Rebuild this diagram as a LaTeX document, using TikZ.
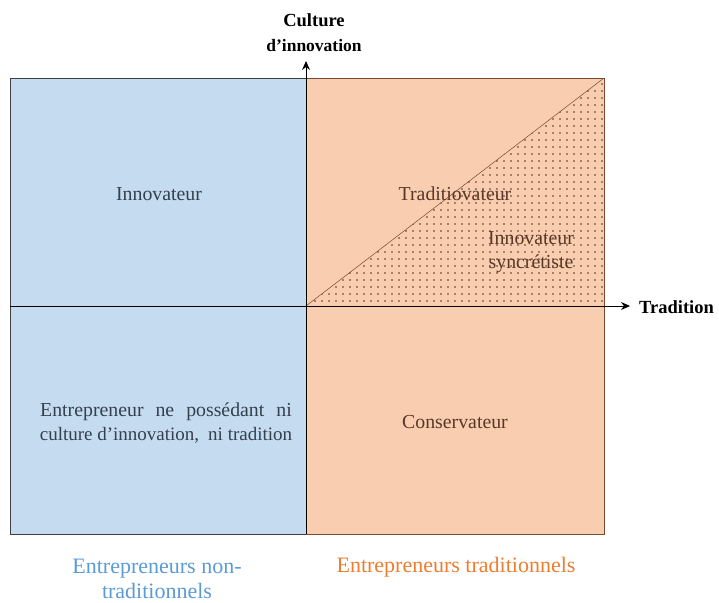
\documentclass[tikz,border=0pt]{standalone}
\usepackage{fontspec}
\setmainfont{Liberation Serif}
\usetikzlibrary{arrows.meta,patterns.meta}
\definecolor{bluefill}{HTML}{C5DCF0}
\definecolor{orangefill}{HTML}{F8CDB0}
\definecolor{brownline}{HTML}{7A4A30}
\definecolor{dotcolor}{HTML}{5A3020}
\definecolor{greyline}{HTML}{3F3F3F}
\definecolor{bluetext}{HTML}{33404F}
\definecolor{browntext}{HTML}{5A3828}
\definecolor{bluelabel}{HTML}{5B9BD5}
\definecolor{orangelabel}{HTML}{ED7D31}
\tikzset{
  quadtext/.style={font=\fontsize{19.8}{24}\selectfont, align=center, inner sep=0pt},
  axislabel/.style={font=\bfseries\fontsize{18.5}{25}\selectfont, align=center, inner sep=0pt},
  grouplabel/.style={font=\fontsize{22}{25}\selectfont, align=center, inner sep=0pt},
  axisline/.style={line width=1pt, black, -{Stealth[length=9pt,width=8pt,inset=3pt]}}
}
\begin{document}
\begin{tikzpicture}[x=1pt,y=-1pt]
\useasboundingbox (0,0) rectangle (719,602);
% quadrants
\fill[bluefill] (10,78) rectangle (306,534);
\fill[orangefill] (306,78) rectangle (604,534);
\fill[pattern={Dots[distance=7pt,radius=0.85pt]}, pattern color=dotcolor] (306,306) -- (604,78) -- (604,306) -- cycle;
\draw[greyline, line width=1pt] (306,78) -- (10,78) -- (10,534) -- (306,534);
\draw[brownline, line width=1pt] (306,78) -- (604,78) -- (604,534) -- (306,534);
\coordinate (o) at (306,306);
\coordinate (tr) at (604,78);
\draw[brownline, line width=0.5pt] (o) -- (tr);
% axes
\coordinate (xstart) at (10,306);
\coordinate (xend) at (630,306);
\coordinate (ystart) at (306,534);
\coordinate (yend) at (306,61);
\draw[axisline] (xstart) -- (xend);
\draw[axisline] (ystart) -- (yend);
% labels
\node[axislabel] (culture) at (314,33) {Culture\\\fontsize{17.5}{25}\selectfont d’innovation};
\node[axislabel, anchor=west] (tradition) at (639,307) {Tradition};
\node[quadtext, text=bluetext] (innov) at (159,194) {Innovateur};
\node[quadtext, text=browntext] (tradi) at (455,194) {Traditiovateur};
\node[quadtext, text=browntext] (sync) at (531,252) {Innovateur\\syncrétiste};
\node[quadtext, text=bluetext] (entr) at (166,423) {Entrepreneur\hspace{12pt}ne\hspace{12pt}possédant\hspace{12pt}ni\\\fontsize{19}{24}\selectfont culture d’innovation,\hspace{9pt}ni tradition};
\node[quadtext, text=browntext] (cons) at (455,422) {Conservateur};
\node[grouplabel, text=bluelabel] (nontrad) at (157,579) {Entrepreneurs non-\\traditionnels};
\node[grouplabel, text=orangelabel] (trad) at (456,567) {Entrepreneurs traditionnels};
\end{tikzpicture}
\end{document}
